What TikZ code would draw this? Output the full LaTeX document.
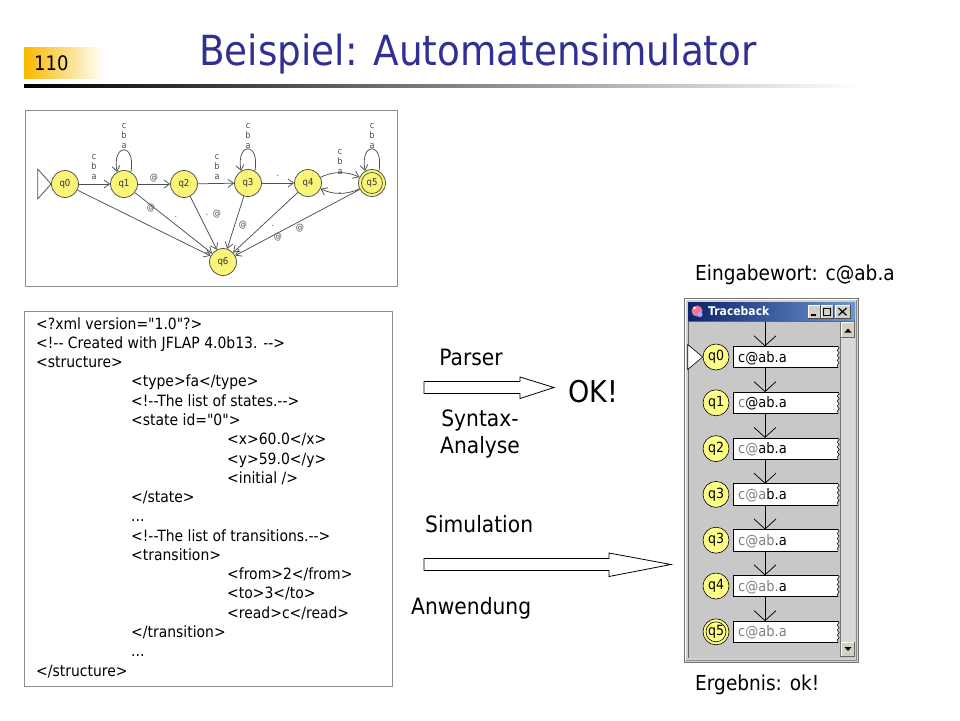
\documentclass[tikz,border=0pt]{standalone}
\usepackage{fontspec}
\setmainfont{DejaVu Sans}[FakeStretch=0.9,Ligatures=TeXOff]
\usetikzlibrary{arrows.meta,decorations.pathmorphing}
\definecolor{titleblue}{RGB}{48,48,148}
\definecolor{pgorange}{RGB}{248,184,0}
\definecolor{stfill}{RGB}{250,244,120}
\definecolor{tyellow}{RGB}{255,255,136}
\definecolor{edgegray}{RGB}{80,80,80}
\definecolor{wingray}{RGB}{200,200,200}
\definecolor{winface}{RGB}{212,208,200}
\definecolor{capblueA}{RGB}{10,36,106}
\definecolor{capblueB}{RGB}{110,150,210}
\definecolor{consumed}{RGB}{128,128,128}
\newcommand{\myfs}[1]{\fontsize{#1}{#1}\selectfont}
\begin{document}
\begin{tikzpicture}[x=1pt,y=-1pt,
  aedge/.style={draw=edgegray, line width=0.75pt, -{Straight Barb[length=5.5pt,width=8pt]}},
  ast/.style={circle, draw=edgegray, line width=0.75pt, fill=stfill, minimum size=27pt, inner sep=0pt, font=\myfs{9.5}, text=black!80},
  albl/.style={font=\fontsize{9}{10.3}\selectfont, text=black!70, inner sep=0pt, align=center},
  xml/.style={anchor=base west, font=\myfs{15.5}, inner sep=0pt},
  lbl/.style={anchor=base west, font=\myfs{22.5}, inner sep=0pt},
  tstate/.style={circle, draw=black, line width=0.6pt, fill=tyellow, minimum size=26pt, inner sep=0pt, font=\myfs{14}},
  tfield/.style={fill=white, minimum width=105pt, minimum height=21pt, inner sep=0pt},
  tarrow/.style={line width=0.75pt, -{Straight Barb[length=10pt,width=22pt]}},
  block/.style={draw=black, line width=0.8pt, fill=white},
]
\useasboundingbox (0,0) rectangle (960,720);
\fill[white] (0,0) rectangle (960,720);

% ---------- header ----------
\shade[left color=pgorange, right color=white] (24,47) rectangle (104,78);
\node[anchor=base west, font=\myfs{20}, inner sep=0pt] (pg) at (34,70) {110};
\node[anchor=base west, font=\myfs{41.5}, text=titleblue, inner sep=0pt] (title) at (199,65) {Beispiel: Automatensimulator};
\shade[left color=black, right color=white] (24,84) rectangle (860,87.5);

% ---------- automaton panel ----------
\draw[draw=black!45, line width=0.8pt, fill=white] (25,110) rectangle (397,286);
\node[ast] (q0) at (65,184) {q0};
\node[ast] (q1) at (124,184) {q1};
\node[ast] (q2) at (184,184) {q2};
\node[ast] (q3) at (248,183) {q3};
\node[ast] (q4) at (308,183) {q4};
\node[ast] (q5) at (372,183) {q5};
\draw[edgegray, line width=0.75pt] (q5.center) circle (10.5);
\node[ast] (q6) at (223,262) {q6};
\draw[edgegray, line width=0.75pt, fill=white] (q0.west) -- ++(-13.5,-15) -- ++(0,30) -- cycle;

\draw[aedge] (q0) -- (q1);
\draw[aedge] (q1) -- (q2);
\draw[aedge] (q2) -- (q3);
\draw[aedge] (q3) -- (q4);
\draw[aedge] (q4.25) .. controls +(13,-6) and +(-13,-6) .. (q5.155);
\draw[aedge] (q5.-155) .. controls +(-13,6) and +(13,6) .. (q4.-25);
\draw[aedge] (q1.60) .. controls +(-80:30) and +(-100:30) .. (q1.120);
\draw[aedge] (q3.60) .. controls +(-80:30) and +(-100:30) .. (q3.120);
\draw[aedge] (q5.60) .. controls +(-80:30) and +(-100:30) .. (q5.120);
\draw[aedge] (q0) -- (q6);
\draw[aedge] (q1) -- (q6);
\draw[aedge] (q2) -- (q6);
\draw[aedge] (q3) -- (q6);
\draw[aedge] (q4) -- (q6);
\draw[aedge] (q5) -- (q6);

\node[albl] (l01) at (94,167) {c\\b\\a};
\node[albl] (l11) at (124,136) {c\\b\\a};
\node[albl] (l23) at (217,167) {c\\b\\a};
\node[albl] (l33) at (248,136) {c\\b\\a};
\node[albl] (l45) at (340,162) {c\\b\\a};
\node[albl] (l55) at (372,136) {c\\b\\a};
\node[albl] (l12) at (154,178) {@};
\node[albl] (l16) at (151,208) {@};
\node[albl] (l26) at (217,214) {@};
\node[albl] (l36) at (243,225) {@};
\node[albl] (l46) at (278,237) {@};
\node[albl] (l56) at (300,228) {@};
\node[albl] (d34) at (278,176) {.};
\node[albl] (d54) at (340,193) {.};
\node[albl] (d06) at (176,217) {.};
\node[albl] (d26) at (207,215) {.};
\node[albl] (d46) at (273,226) {.};

% ---------- XML panel ----------
\draw[draw=black!45, line width=0.8pt, fill=white] (24,311) rectangle (392,686);
\node[xml] (x0)  at (36,329)    {<?xml version="1.0"?>};
\node[xml] (x1)  at (36,348.3)  {<!-- Created with JFLAP 4.0b13. -->};
\node[xml] (x2)  at (36,367.6)  {<structure>};
\node[xml] (x3)  at (131,386.8) {<type>fa</type>};
\node[xml] (x4)  at (131,406.1) {<!--The list of states.-->};
\node[xml] (x5)  at (131,425.4) {<state id="0">};
\node[xml] (x6)  at (227,444.7) {<x>60.0</x>};
\node[xml] (x7)  at (227,464.0) {<y>59.0</y>};
\node[xml] (x8)  at (227,483.2) {<initial />};
\node[xml] (x9)  at (131,502.5) {</state>};
\node[xml] (x10) at (131,521.8) {...};
\node[xml] (x11) at (131,541.1) {<!--The list of transitions.-->};
\node[xml] (x12) at (131,560.4) {<transition>};
\node[xml] (x13) at (227,579.6) {<from>2</from>};
\node[xml] (x14) at (227,598.9) {<to>3</to>};
\node[xml] (x15) at (227,618.2) {<read>c</read>};
\node[xml] (x16) at (131,637.5) {</transition>};
\node[xml] (x17) at (131,656.8) {...};
\node[xml] (x18) at (36,676)    {</structure>};

% ---------- middle ----------
\node[anchor=base, font=\myfs{22.5}, inner sep=0pt] (parser) at (471,365) {Parser};
\draw[block] (424,381.5) -- (520,381.5) -- (520,377) -- (554,387.5) -- (520,398.5) -- (520,393.5) -- (424,393.5) -- cycle;
\node[anchor=base west, font=\myfs{30}, inner sep=0pt] (ok) at (568,402) {OK!};
\node[anchor=base, font=\myfs{22.5}, inner sep=0pt] (syn) at (480,426) {Syntax-};
\node[anchor=base, font=\myfs{22.5}, inner sep=0pt] (ana) at (480,453) {Analyse};
\node[lbl] (sim) at (425,532) {Simulation};
\draw[block] (424,558.5) -- (609,558.5) -- (609,553) -- (671,564.5) -- (609,576.5) -- (609,570.5) -- (424,570.5) -- cycle;
\node[lbl] (anw) at (411,614) {Anwendung};

% ---------- traceback window ----------
\node[anchor=base west, font=\myfs{20.6}, inner sep=0pt] (ein) at (695,280) {Eingabewort: c@ab.a};
\node[anchor=base west, font=\myfs{20.6}, inner sep=0pt] (erg) at (695,690) {Ergebnis: ok!};

\draw[black!55, fill=winface] (684,298) rectangle (858,662);
\draw[white, line width=0.8pt] (685.5,660.5) -- (685.5,299.5) -- (856.5,299.5);
\draw[black!45, line width=0.8pt] (685.5,660.5) -- (856.5,660.5) -- (856.5,299.5);
\shade[left color=capblueA, right color=capblueB] (688,302) rectangle (855,320);
\fill[magenta!55!red!55] (697,311) circle (5.5);
\fill[blue!35] (700,314.5) circle (2.6);
\fill[white] (694.5,308) circle (1.3);
\node[anchor=base west, text=white, font=\bfseries\myfs{12}, inner sep=0pt] (ttl) at (708,315.5) {Traceback};
% buttons
\foreach \bx/\bw in {808/12, 821/12, 835/15} {
  \fill[winface] (\bx,305) rectangle (\bx+\bw,318);
  \draw[white, line width=0.7pt] (\bx,318) -- (\bx,305) -- (\bx+\bw,305);
  \draw[black!70, line width=0.7pt] (\bx,318) -- (\bx+\bw,318) -- (\bx+\bw,305);
}
\fill[black] (810.5,313.8) rectangle (816,315.6);
\draw[black, line width=0.6pt] (823.5,307.8) rectangle (830.5,315.3);
\fill[black] (823.5,307.8) rectangle (830.5,309.3);
\draw[black, line width=1.2pt] (838.5,308) -- (846.5,315.3) (846.5,308) -- (838.5,315.3);
% content area
\fill[wingray] (688,321) rectangle (855,658);
\draw[black!60, line width=0.8pt] (688.4,658) -- (688.4,321.4) -- (855,321.4);
% scrollbar
\fill[black!15] (840,322) rectangle (855,657);
\draw[black!55, line width=0.7pt] (840,322) -- (840,657);
\foreach \by in {322,641.5} {
  \fill[winface] (841,\by) rectangle (855,\by+15.5);
  \draw[white, line width=0.6pt] (841.3,\by+15.5) -- (841.3,\by+0.3) -- (855,\by+0.3);
  \draw[black!60, line width=0.6pt] (841.3,\by+15.2) -- (854.7,\by+15.2) -- (854.7,\by+0.3);
}
\fill[black] (844.5,332.5) -- (851.5,332.5) -- (848,328.5) -- cycle;
\fill[black] (844.5,647) -- (851.5,647) -- (848,651) -- cycle;

% rows
\foreach \i/\q/\c/\r in {0/q0//c@ab.a,1/q1/c/@ab.a,2/q2/c@/ab.a,3/q3/c@a/b.a,4/q3/c@ab/.a,5/q4/c@ab./a,6/q5/c@ab.a/} {
  \pgfmathsetmacro\yy{357+45.8*\i}
  \node[tstate] (s\i) at (716,\yy) {\q};
  \node[tfield] (f\i) at (785.5,\yy) {};
  \draw[line width=0.6pt] (f\i.north east) -- (f\i.north west) -- (f\i.south west) -- (f\i.south east);
  \draw[line width=0.5pt, decorate, decoration={snake, amplitude=1pt, segment length=5pt}] (f\i.north east) -- (f\i.south east);
  \node[anchor=base west, font=\myfs{14.5}, inner sep=0pt] (t\i) at (738,\yy+5) {\textcolor{consumed}{\c}\r};
}
\draw[line width=0.6pt] (s6.center) circle (10);
\draw[line width=0.6pt, fill=white] (s0.west) -- ++(-15,-12.5) -- ++(0,25) -- cycle;
\coordinate (atop) at (765,321.8);
\draw[tarrow] (atop) -- (atop |- f0.north);
\foreach \i [evaluate=\i as \j using int(\i-1)] in {1,...,6} {
  \draw[tarrow] (atop |- f\j.south) -- (atop |- f\i.north);
}
\end{tikzpicture}
\end{document}
